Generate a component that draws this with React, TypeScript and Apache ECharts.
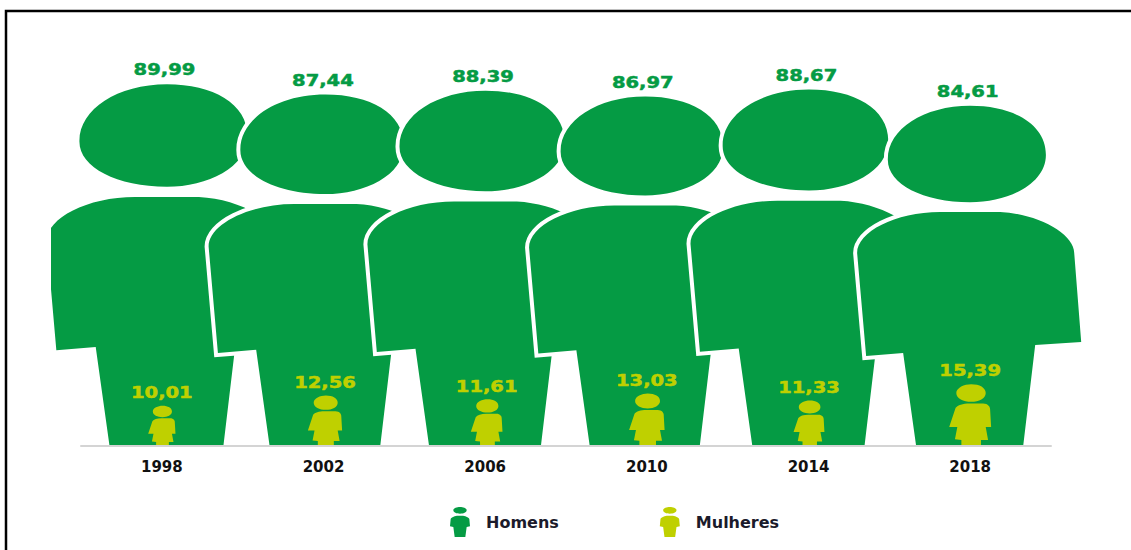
import React, { useEffect, useRef } from "react";
import * as echarts from "echarts";

const years = ["1998", "2002", "2006", "2010", "2014", "2018"];
const homens = [89.99, 87.44, 88.39, 86.97, 88.67, 84.61];
const mulheres = [10.01, 12.56, 11.61, 13.03, 11.33, 15.39];
const homemNudge = [4.1, 0.9, -0.7, -2.6, -0.6, -1];
const mulherNudge = [0, 1.5, 1.5, 0, 0.5, 0];

const GREEN = "#059B44";
const LIME = "#BFD000";

const MAN =
  "M34.7 54C34 24 70 0 117 0C160 0 192.7 18 192.7 49C192.7 78 155 96.3 117 96.3C70 96.3 34.7 78 34.7 54Z" +
  "M4 147C4 126 42 106 87 106L147 106C185 108 221 128 221 147L228 236L182 239L170 340L63 340L50 247L13 250Z";
const WOMAN =
  "M21 26C21 10 45 0 65 0C90 0 108 10 108 26C108 42 88 52 65 52C42 52 21 42 21 26Z" +
  "M19 70C25 62 40 57 60 57L100 57C115 57 122 68 121 75L124 127L108 127L115 165L94 165L94 183L36 183L36 165L17 163L24 127L0 127Z";
const ICON =
  "M10 10C10 3 20 0 30 0C40 0 50 3 50 10C50 17 40 20 30 20C20 20 10 17 10 10Z" +
  "M2 36C4 30 16 26 24 26L36 26C44 26 56 30 58 36L60 58L50 60L46 90L14 90L10 60L0 58Z";

const fmt = (v: number) => v.toFixed(2).replace(".", ",");

function figure(
  path: string,
  aspect: number,
  color: string,
  halo: number,
  labelGap: number,
  labelShift: number,
  nudge: number[],
) {
  return (params: any, api: any) => {
    const i = api.value(0);
    const v = api.value(1);
    const top = api.coord([i, v]);
    const base = api.coord([i, 0]);
    const h = base[1] - top[1];
    const w = h * aspect;
    const cx = top[0] + nudge[i];
    const shape = { pathData: path, layout: "cover", x: cx - w / 2, y: top[1], width: w, height: h };
    const children: any[] = [];
    if (halo > 0) {
      children.push({
        type: "path",
        shape,
        style: { fill: "#fff", stroke: "#fff", lineWidth: halo, lineJoin: "miter" },
      });
    }
    children.push({ type: "path", shape, style: { fill: color } });
    children.push({
      type: "text",
      x: cx + labelShift,
      y: top[1] - labelGap,
      scaleX: 1.3,
      style: {
        text: fmt(v),
        fill: color,
        stroke: color,
        lineWidth: 0.5,
        fontFamily: "DejaVu Sans",
        fontWeight: "bold",
        fontSize: 15,
        align: "center",
        verticalAlign: "middle",
      },
    });
    return { type: "group", children };
  };
}

export default function App() {
  const ref = useRef<HTMLDivElement>(null);
  useEffect(() => {
    document.body.style.margin = "0";
    const chart = echarts.init(ref.current!, null, { renderer: "svg" });
    chart.setOption({
      animation: false,
      backgroundColor: "#fff",
      grid: { left: 81, top: 44, width: 970, height: 402 },
      xAxis: {
        type: "category",
        data: years,
        z: 5,
        axisLine: { lineStyle: { color: "#d4d4d4", width: 2 } },
        axisTick: { show: false },
        axisLabel: { color: "#111", fontFamily: "DejaVu Sans", fontWeight: "bold", fontSize: 15, margin: 13 },
      },
      yAxis: { type: "value", min: 0, max: 100, show: false, splitLine: { show: false } },
      legend: {
        left: 445,
        top: 502,
        itemWidth: 20,
        itemHeight: 30,
        itemGap: 101,
        symbolKeepAspect: false,
        selectedMode: false,
        textStyle: {
          color: "#1b1b2b",
          fontFamily: "DejaVu Sans",
          fontWeight: "bold",
          fontSize: 16,
          padding: [4, 0, 0, 11],
        },
        data: [
          { name: "Homens", icon: "path://" + ICON },
          { name: "Mulheres", icon: "path://" + ICON },
        ],
      },
      series: [
        {
          name: "Homens",
          type: "custom",
          z: 2,
          clip: false,
          itemStyle: { color: GREEN },
          renderItem: figure(MAN, 224 / 340, GREEN, 8, 14, -1.5, homemNudge),
          data: homens.map((v, i) => [i, v]),
        },
        {
          name: "Mulheres",
          type: "custom",
          z: 3,
          clip: false,
          itemStyle: { color: LIME },
          renderItem: figure(WOMAN, 124 / 183, LIME, 0, 13, 0, mulherNudge),
          data: mulheres.map((v, i) => [i, v]),
        },
      ],
      graphic: [
        { type: "rect", z: 100, shape: { x: 8, y: 190, width: 43, height: 170 }, style: { fill: "#fff" } },
        {
          type: "polyline",
          z: 101,
          shape: { points: [[6, 552], [6, 11], [1133, 11]] },
          style: { fill: "none", stroke: "#000", lineWidth: 2.5 },
        },
      ],
    });
    return () => chart.dispose();
  }, []);
  return <div ref={ref} style={{ width: 1131, height: 550 }} />;
}
